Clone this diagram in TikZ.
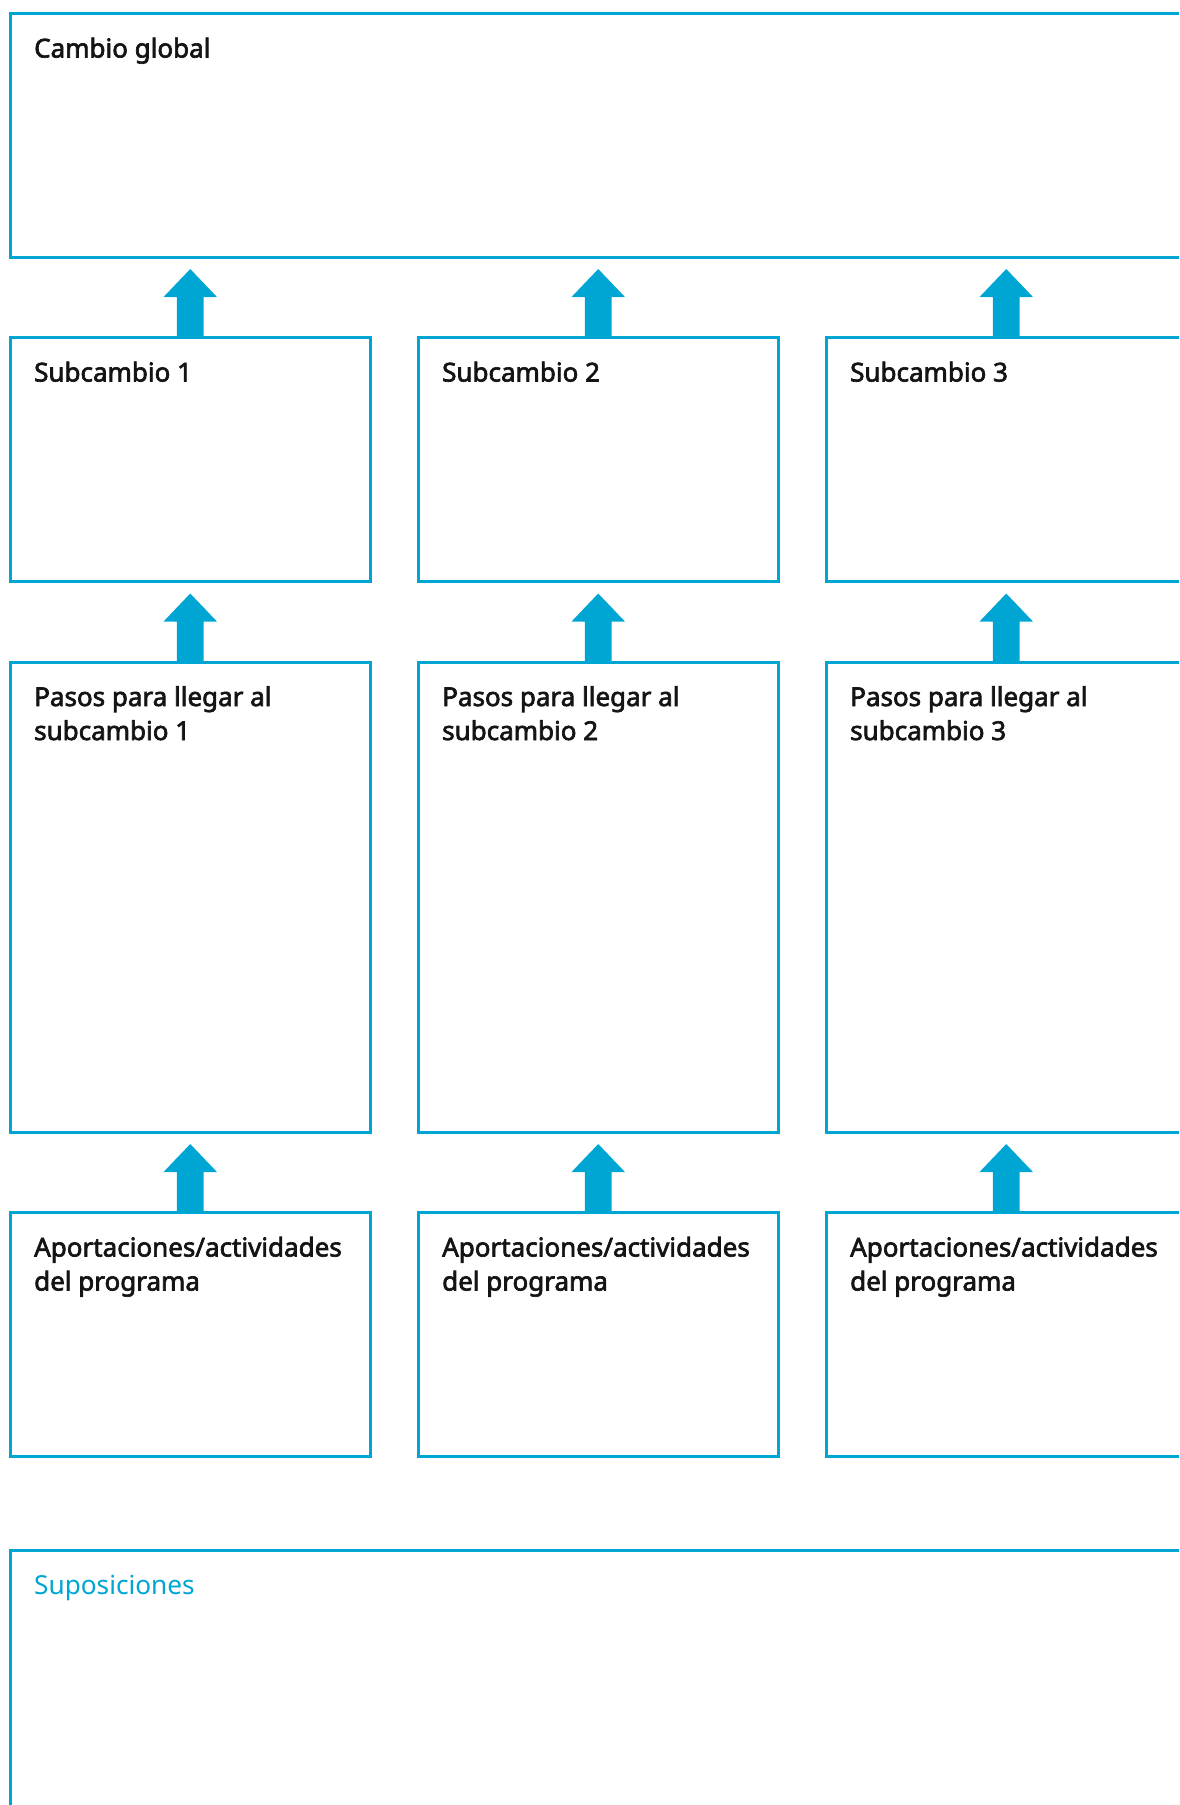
\documentclass[tikz,border=0pt]{standalone}
\usepackage{fontspec}
\setmainfont{Noto Sans}
\newfontfamily\medfont{Noto Sans}[FakeBold=2.5]
\newfontfamily\lightfont{Noto Sans}
\usetikzlibrary{calc}
\definecolor{tblue}{HTML}{00A6D3}
\definecolor{tblack}{HTML}{141414}
\tikzset{
  frame/.style={draw=tblue, line width=3pt, rectangle, inner sep=0pt, outer sep=0pt, minimum width=359.5pt},
  wideframe/.style={frame, minimum width=1175.5pt},
  lbl/.style={anchor=base west, inner sep=0pt, text=tblack, font=\medfont\fontsize{26}{30}\selectfont},
  bluelbl/.style={anchor=base west, inner sep=0pt, text=tblue, font=\lightfont\fontsize{26.2}{30}\selectfont},
  arr/.style={fill=tblue, draw=none}
}
\newcommand{\blockarrow}[2]{%
  \fill[arr] ($(#1.north)+(-13.3,0)$) -- ($(#1.north |- #2.south)+(-13.3,40)$)
    -- ($(#1.north |- #2.south)+(-26.7,40)$) -- ($(#1.north |- #2.south)+(0,12)$)
    -- ($(#1.north |- #2.south)+(26.7,40)$) -- ($(#1.north |- #2.south)+(13.3,40)$)
    -- ($(#1.north)+(13.3,0)$) -- cycle;}
\begin{document}
\begin{tikzpicture}[x=1pt,y=-1pt]
\useasboundingbox (0,0) rectangle (1179,1805);
\clip (0,0) rectangle (1179,1805);
\fill[white] (0,0) rectangle (1179,1805);
% top box
\node[wideframe, minimum height=243.5pt, anchor=north west] (g) at (10.5,13.5) {};
% columns
\foreach \i/\x in {1/10.5, 2/418.5, 3/826.5}{
  \node[frame, minimum height=244pt, anchor=north west] (s\i) at (\x,337.5) {};
  \node[frame, minimum height=470pt, anchor=north west] (p\i) at (\x,662) {};
  \node[frame, minimum height=244pt, anchor=north west] (a\i) at (\x,1212.5) {};
}
% bottom box
\node[wideframe, minimum height=320pt, anchor=north west] (sup) at (10.5,1550.5) {};
% labels
\node[lbl] (tg) at ($(g.north west)+(23.5,44)$) {Cambio global};
\foreach \i in {1,2,3}{
  \node[lbl] (ts\i) at ($(s\i.north west)+(23.5,44)$) {Subcambio \i};
  \node[lbl] (tp\i) at ($(p\i.north west)+(23.5,44)$) {Pasos para llegar al};
  \node[lbl] (tpb\i) at ($(p\i.north west)+(23.5,78)$) {subcambio \i};
  \node[lbl] (ta\i) at ($(a\i.north west)+(23.5,44)$) {Aportaciones/actividades};
  \node[lbl] (tab\i) at ($(a\i.north west)+(23.5,78)$) {del programa};
}
\node[bluelbl] (tsup) at ($(sup.north west)+(23.5,44)$) {Suposiciones};
% arrows
\foreach \i in {1,2,3}{
  \blockarrow{s\i}{g}
  \blockarrow{p\i}{s\i}
  \blockarrow{a\i}{p\i}
}
\end{tikzpicture}
\end{document}
